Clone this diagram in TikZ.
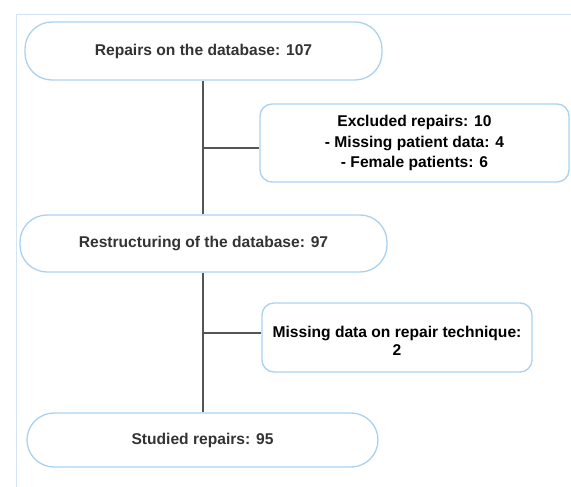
\documentclass[tikz,border=0pt]{standalone}
\usepackage{fontspec}
\setmainfont{Liberation Sans}
\definecolor{boxblue}{HTML}{A9D1F0}
\definecolor{framblue}{HTML}{D3E5F5}
\definecolor{linegray}{HTML}{555555}
\definecolor{txtgray}{HTML}{333333}
\begin{document}
\begin{tikzpicture}[x=1pt,y=-1pt,
  pill/.style={draw=boxblue,line width=1.3pt,rounded corners=27pt,inner sep=0pt,
    font=\bfseries\fontsize{15.6}{18}\selectfont,text=txtgray,align=center},
  sidebox/.style={draw=boxblue,line width=1.3pt,rounded corners=12pt,inner sep=0pt,
    font=\bfseries\fontsize{15.6}{20.5}\selectfont,text=black,align=center},
  conn/.style={draw=linegray,line width=1.4pt}]
\useasboundingbox (0,0) rectangle (571,487);
\draw[framblue,line width=1pt] (16,487) -- (16,14.5) -- (571,14.5);
\node[pill,minimum width=357pt,minimum height=58pt] (b1) at (203.5,51) {Repairs on the database: 107};
\node[sidebox,minimum width=309pt,minimum height=78pt] (b2) at (414.5,143) {Excluded repairs: 10\\- Missing patient data: 4\\- Female patients: 6};
\node[pill,minimum width=367pt,minimum height=57pt] (b3) at (203.5,243.5) {Restructuring of the database: 97};
\node[sidebox,minimum width=270pt,minimum height=69pt,font=\bfseries\fontsize{15.6}{18.5}\selectfont] (b4) at (397,337.5) {};
\node[font=\bfseries\fontsize{15.6}{18.5}\selectfont,align=center,inner sep=0pt] (b4t) at (397,341) {Missing data on repair technique:\\2};
\node[pill,minimum width=351pt,minimum height=54pt] (b5) at (202.5,440) {Studied repairs: 95};
\coordinate (j1) at (203,148);
\coordinate (j2) at (203,333);
\draw[conn] (b1.south -| j1) -- (b3.north -| j1);
\draw[conn] (b3.south -| j2) -- (b5.north -| j2);
\draw[conn] (j1) -- (j1 -| b2.west);
\draw[conn] (j2) -- (j2 -| b4.west);
\end{tikzpicture}
\end{document}
